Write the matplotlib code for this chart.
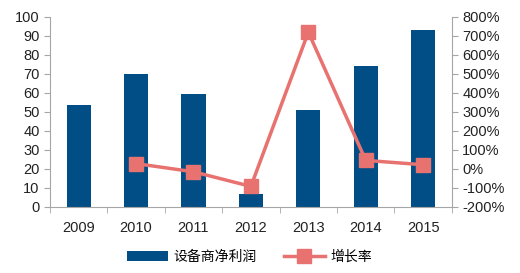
import numpy as np
import matplotlib
matplotlib.use("Agg")
import matplotlib.pyplot as plt

plt.rcParams['font.family'] = ['Liberation Sans', 'Noto Sans CJK SC', 'DejaVu Sans']

# ========== Data ==========
years = ["2009", "2010", "2011", "2012", "2013", "2014", "2015"]
profit = [53.5, 70, 59.5, 7, 51, 74, 93]          # 设备商净利润
growth = [np.nan, 28, -15, -92, 720, 45, 22]       # 增长率 (%)

bar_color = "#004E85"
line_color = "#E8726F"
axis_color = "#A6A6A6"

fig = plt.figure(figsize=(5.2, 2.73), dpi=100)
ax = fig.add_axes([0.096, 0.242, 0.773, 0.696])
ax2 = ax.twinx()

x = np.arange(len(years))
bars = ax.bar(x, profit, width=0.42, color=bar_color, label="设备商净利润", zorder=2)
line, = ax2.plot(x, growth, color=line_color, lw=2.5, marker="s", ms=10,
                 label="增长率", zorder=3)

ax.set_xlim(-0.5, len(years) - 0.5)
ax.set_ylim(0, 100)
ax.set_yticks(range(0, 101, 10))
ax2.set_ylim(-200, 800)
ax2.set_yticks(range(-200, 801, 100))
ax2.set_yticklabels([f"{v}%" for v in range(-200, 801, 100)])

ax.set_xticks(x)
ax.set_xticklabels(years)
ax.set_xticks(np.arange(-0.5, len(years)), minor=True)
ax.tick_params(axis="x", which="major", length=0, pad=10)
ax.tick_params(axis="x", which="minor", length=4, color=axis_color, direction="out")

for a in (ax, ax2):
    a.spines["top"].set_visible(False)
    for s in ("left", "right", "bottom"):
        a.spines[s].set_color(axis_color)
    a.tick_params(axis="y", length=4, color=axis_color, labelsize=10.5, labelcolor="#222222")
    a.tick_params(axis="x", labelsize=10.5, labelcolor="#222222")
ax.spines["right"].set_visible(False)
ax2.spines["left"].set_visible(False)
ax2.spines["bottom"].set_visible(False)

fig.legend(handles=[bars, line], loc="center", bbox_to_anchor=(0.48, 0.06),
           ncol=2, frameon=False, fontsize=10, handlelength=2.9, columnspacing=2.0,
           handletextpad=0.4)

fig.savefig("out.png", dpi=100)
